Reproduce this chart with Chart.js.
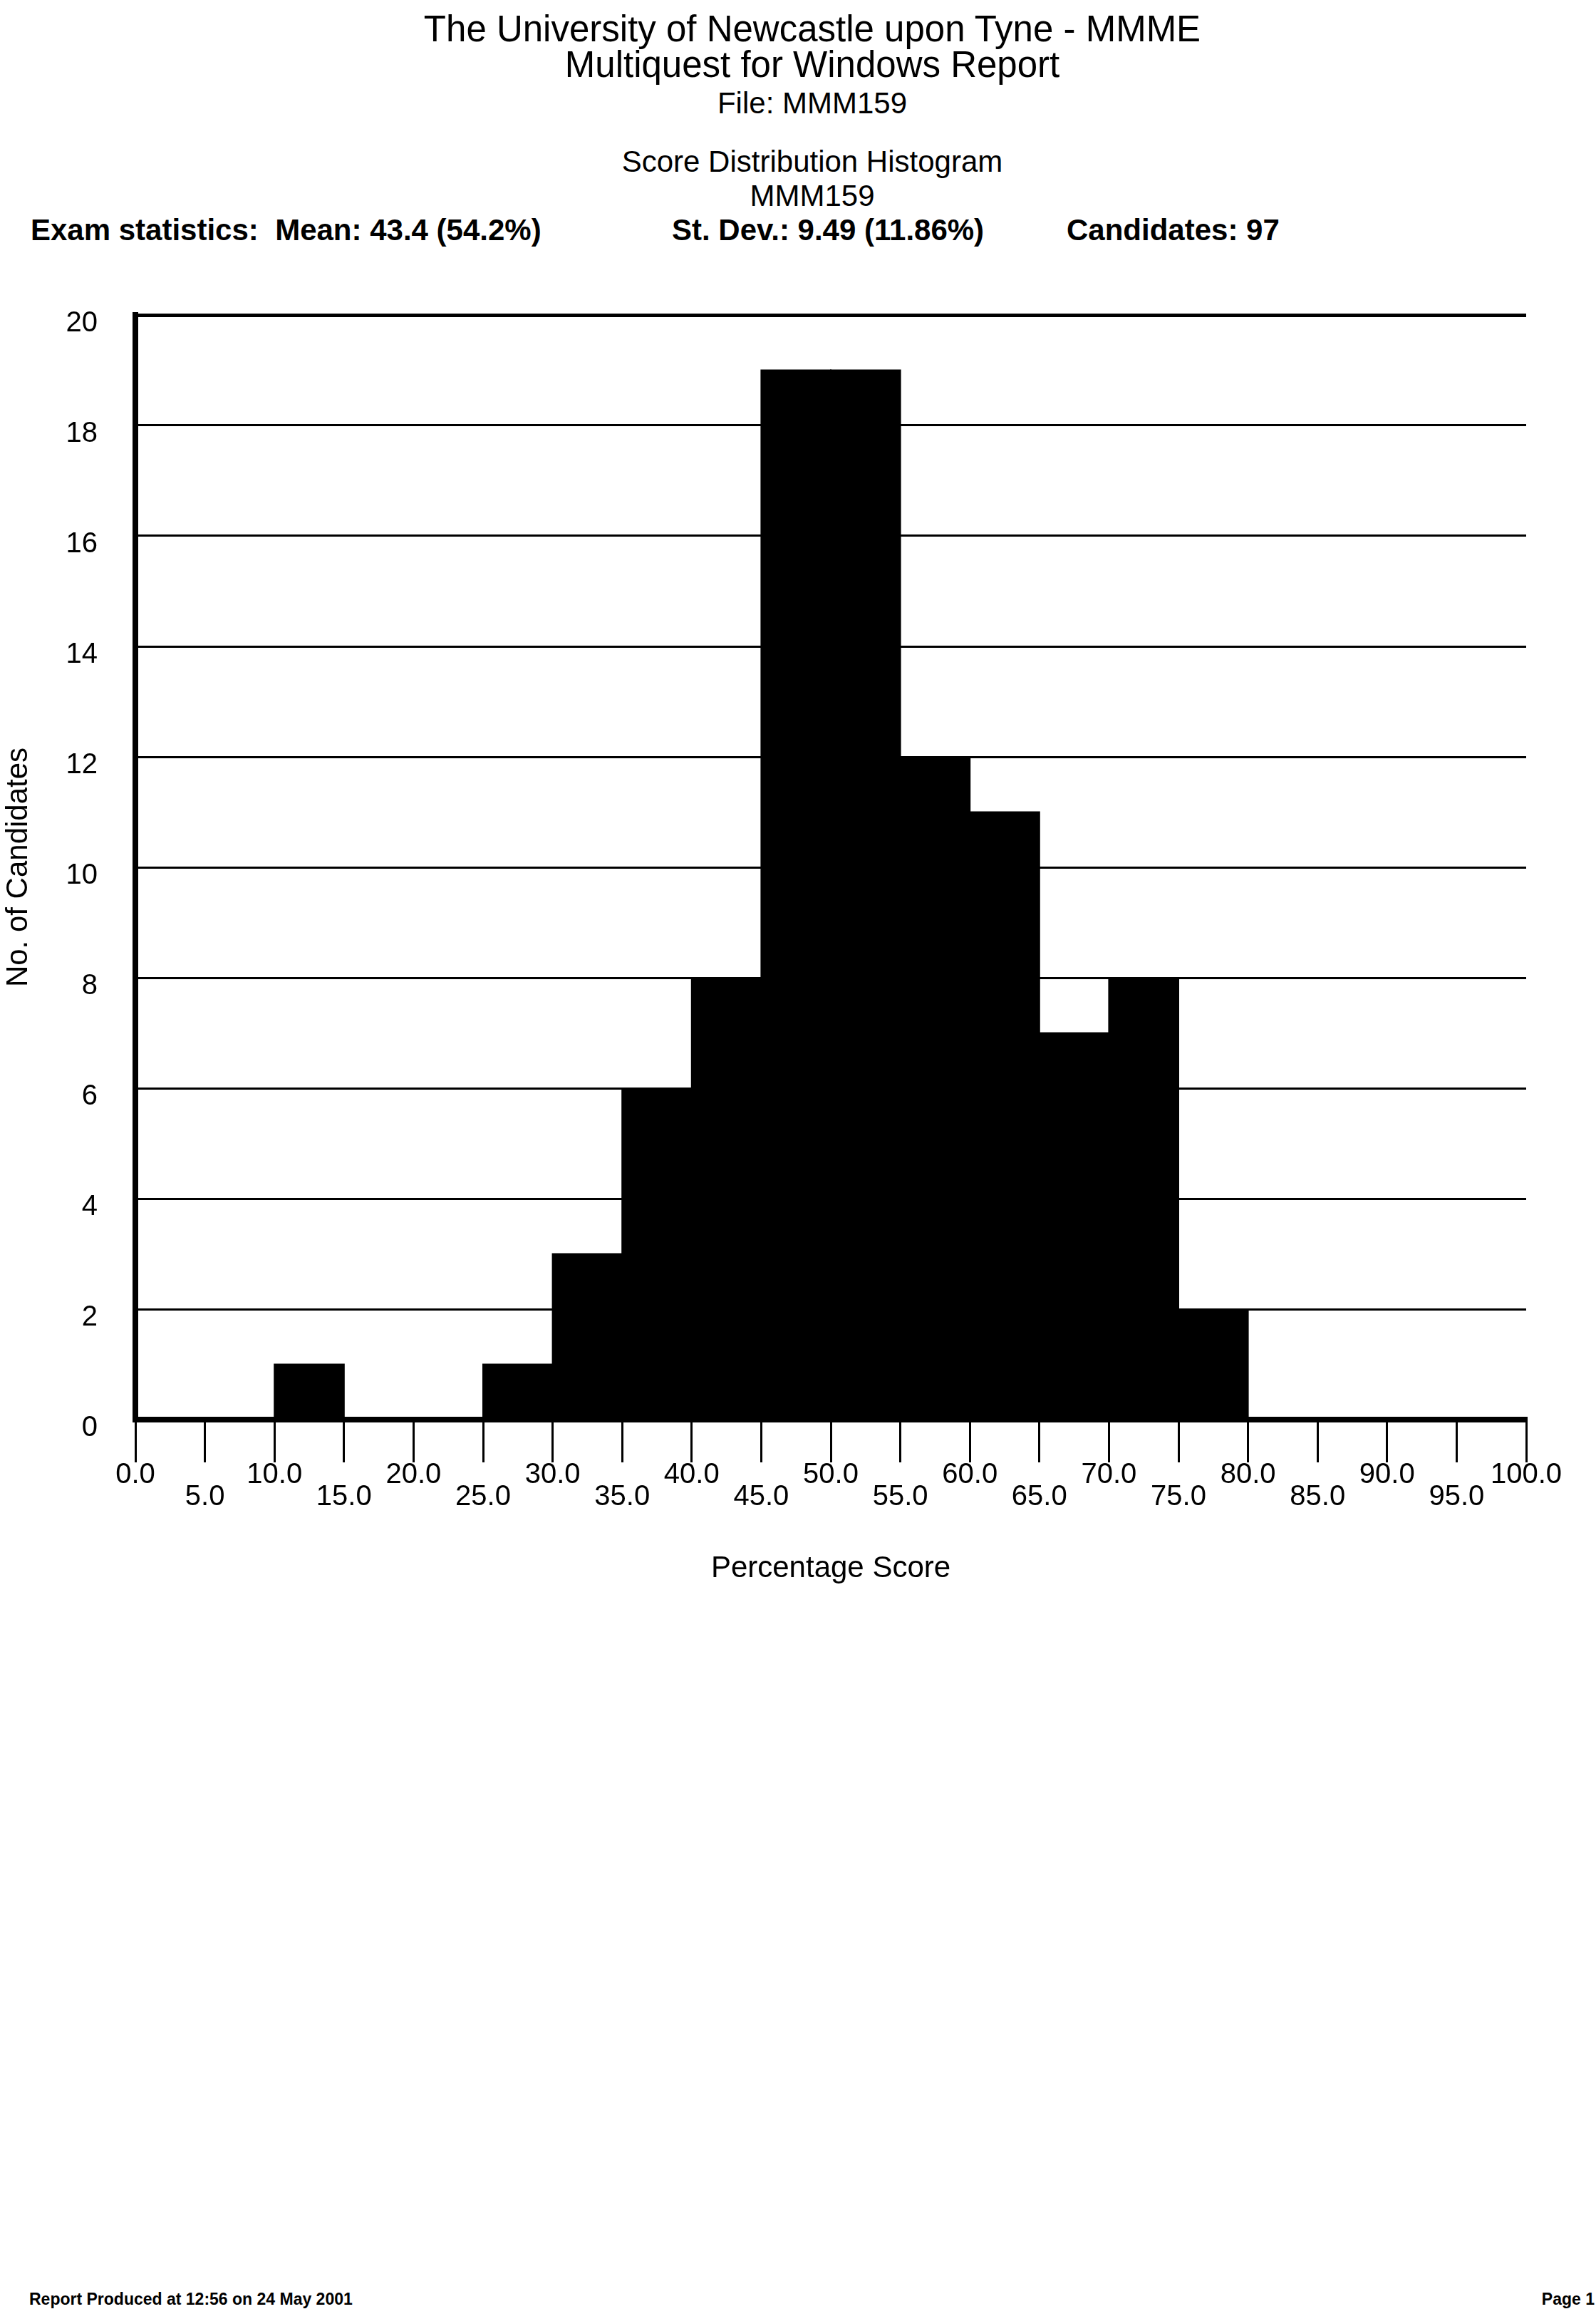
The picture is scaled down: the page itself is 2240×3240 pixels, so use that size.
<!DOCTYPE html>
<html><head><meta charset="utf-8">
<script src="https://cdn.jsdelivr.net/npm/chart.js@4.4.1/dist/chart.umd.min.js"></script>
<style>
html,body{margin:0;padding:0;background:#fff;}
body{width:2240px;height:3240px;position:relative;overflow:hidden;font-family:"Liberation Sans",Arial,sans-serif;color:#000;}
.t{position:absolute;white-space:pre;line-height:1;}
.c{left:140px;width:2000px;text-align:center;}
.b{font-weight:bold;}
#wrap{position:absolute;left:0;top:400px;width:2240px;height:1900px;}
</style></head><body>
<div class="t c" style="top:15px;font-size:51px">The University of Newcastle upon Tyne - MMME</div>
<div class="t c" style="top:65px;font-size:51px">Multiquest for Windows Report</div>
<div class="t c" style="top:124px;font-size:42px">File: MMM159</div>
<div class="t c" style="top:206px;font-size:42px">Score Distribution Histogram</div>
<div class="t c" style="top:254px;font-size:42px">MMM159</div>
<div class="t b" style="top:302px;left:43px;font-size:42px">Exam statistics:  Mean: 43.4 (54.2%)</div>
<div class="t b" style="top:302px;left:943px;font-size:42px">St. Dev.: 9.49 (11.86%)</div>
<div class="t b" style="top:302px;left:1497px;font-size:42px">Candidates: 97</div>
<div id="wrap"><canvas id="chart"></canvas></div>
<div class="t b" style="top:3215px;left:41px;font-size:23px">Report Produced at 12:56 on 24 May 2001</div>
<div class="t b" style="top:3215px;right:2px;font-size:23px">Page 1</div>
<script>
const binStarts = [0,5,10,15,20,25,30,35,40,45,50,55,60,65,70,75,80,85,90,95];
const binEnds   = [5,10,15,20,25,30,35,40,45,50,55,60,65,70,75,80,85,90,95,100];
const counts    = [0,0,1,0,0,1,3,6,8,19,19,12,11,7,8,2,0,0,0,0];
const xTickLabels = ['0.0','5.0','10.0','15.0','20.0','25.0','30.0','35.0','40.0','45.0','50.0',
                     '55.0','60.0','65.0','70.0','75.0','80.0','85.0','90.0','95.0','100.0'];
const yTickLabels = ['0','2','4','6','8','10','12','14','16','18','20'];
const xTitle = 'Percentage Score';
const yTitle = 'No. of Candidates';

const FAMILY = '"Liberation Sans", Arial, sans-serif';
const points = binStarts.map((s, i) => ({ x: (s + binEnds[i]) / 2, y: counts[i] }));

new Chart(document.getElementById('chart'), {
  type: 'bar',
  data: {
    datasets: [{
      data: points,
      backgroundColor: '#000',
      borderWidth: 0,
      barPercentage: 1,
      categoryPercentage: 1,
      inflateAmount: 1
    }]
  },
  options: {
    responsive: true,
    maintainAspectRatio: false,
    animation: false,
    devicePixelRatio: 1,
    layout: { padding: { top: 42, right: 98, bottom: 73, left: 0 } },
    plugins: { legend: { display: false }, tooltip: { enabled: false } },
    scales: {
      x: {
        type: 'linear',
        min: 0, max: 100,
        offset: false,
        afterFit(s) { s.height = 235; },
        grid: { offset: false, drawOnChartArea: false, drawTicks: true, tickLength: 60, color: '#000', lineWidth: 3 },
        border: { display: true, color: '#000', width: 8 },
        ticks: {
          stepSize: 5, autoSkip: false, maxRotation: 0, minRotation: 0, padding: 2, color: '#000',
          font: { family: FAMILY, size: 40, lineHeight: 0.78 },
          callback: (v, i) => (i % 2 === 0 ? xTickLabels[i] : ['', xTickLabels[i]])
        },
        title: { display: true, text: xTitle, color: '#000', font: { family: FAMILY, size: 42 }, padding: 0 }
      },
      y: {
        min: 0, max: 20,
        afterFit(s) { s.width = 190; s.paddingTop = 0; s.paddingBottom = 0; },
        grid: {
          drawTicks: false, color: '#000',
          lineWidth: (c) => (c.tick && c.tick.value === 20 ? 5 : (c.tick && c.tick.value === 0 ? 0 : 3))
        },
        border: { display: true, color: '#000', width: 8 },
        ticks: {
          stepSize: 2, padding: 53, labelOffset: 12, color: '#000',
          font: { family: FAMILY, size: 40 },
          callback: (v, i) => yTickLabels[i]
        },
        title: { display: true, text: yTitle, color: '#000', font: { family: FAMILY, size: 42 }, padding: { top: 1, bottom: 0 } }
      }
    }
  }
});
</script>
</body></html>
